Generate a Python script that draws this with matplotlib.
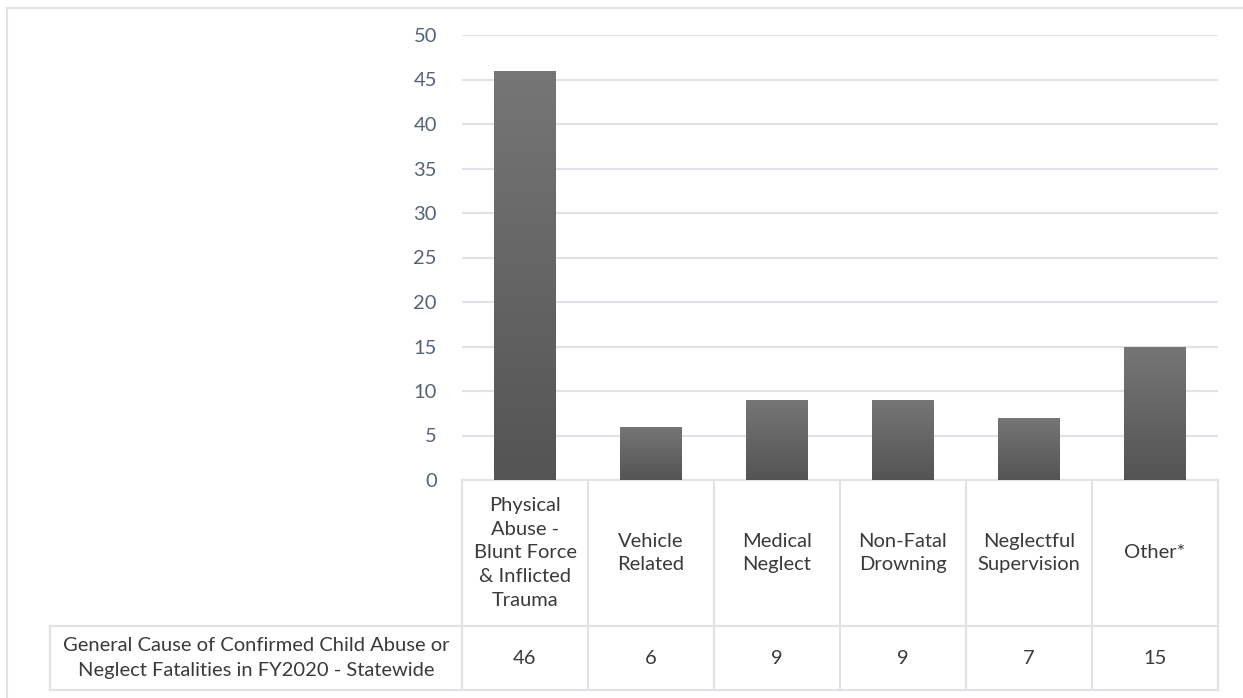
import matplotlib
matplotlib.use("Agg")
import matplotlib.pyplot as plt
import numpy as np
from matplotlib.transforms import blended_transform_factory
from matplotlib.lines import Line2D
from matplotlib.colors import LinearSegmentedColormap

categories = ["Physical\nAbuse -\nBlunt Force\n& Inflicted\nTrauma", "Vehicle\nRelated",
              "Medical\nNeglect", "Non-Fatal\nDrowning", "Neglectful\nSupervision", "Other*"]
values = [46, 6, 9, 9, 7, 15]
series_name = "General Cause of Confirmed Child Abuse or\nNeglect Fatalities in FY2020 - Statewide"
yticks = [0, 5, 10, 15, 20, 25, 30, 35, 40, 45, 50]

plt.rcParams['font.family'] = ['Lato', 'DejaVu Sans']

W, H = 1243, 698
fig = plt.figure(figsize=(W / 100, H / 100), dpi=100)

def fx(px):
    return px / W

def fy(py):
    return 1 - py / H

ax_left, ax_right, ax_top, ax_bottom = 462, 1218, 35, 480
ax = fig.add_axes([fx(ax_left), fy(ax_bottom), fx(ax_right - ax_left), (ax_bottom - ax_top) / H])

grid_c = '#dfe3e8'
text_c = '#3a3a3a'
tick_c = '#56627a'

x = np.arange(len(values))
bars = ax.bar(x, values, width=0.49, color='#616161', zorder=2)
grad = np.linspace(0, 1, 256).reshape(-1, 1)
cmap = LinearSegmentedColormap.from_list('g', ['#545454', '#767676'])
for b in bars:
    x0, y0 = b.get_x(), b.get_y()
    w, h = b.get_width(), b.get_height()
    im = ax.imshow(grad, extent=[x0, x0 + w, y0, y0 + h], origin='lower', cmap=cmap,
                   aspect='auto', zorder=3)
    im.set_clip_path(b)

ax.set_xlim(-0.5, len(values) - 0.5)
ax.set_ylim(0, 50)
ax.set_yticks(yticks)
ax.set_yticklabels([str(t) for t in yticks])
ax.tick_params(axis='y', length=0, pad=18, labelsize=14.5, labelcolor=tick_c)
ax.set_xticks([])
for s in ax.spines.values():
    s.set_visible(False)
ax.grid(axis='y', color=grid_c, linewidth=1.5, zorder=0)
ax.set_axisbelow(True)

# Data table below the axes
trans = blended_transform_factory(ax.transData, ax.transAxes)
axh = ax_bottom - ax_top
hdr_bot = -(626 - ax_bottom) / axh
val_bot = -(690 - ax_bottom) / axh
lw = 1.5
n = len(values)
for yv in [0, hdr_bot, val_bot]:
    ax.add_line(Line2D([-0.5, n - 0.5], [yv, yv], transform=trans, color=grid_c, lw=lw, clip_on=False))
for i in range(n + 1):
    ax.add_line(Line2D([i - 0.5, i - 0.5], [0, val_bot], transform=trans, color=grid_c, lw=lw, clip_on=False))
tA = ax.transAxes
rh_left = (50 - ax_left) / (ax_right - ax_left)
for yv in [hdr_bot, val_bot]:
    ax.add_line(Line2D([rh_left, 0], [yv, yv], transform=tA, color=grid_c, lw=lw, clip_on=False))
ax.add_line(Line2D([rh_left, rh_left], [hdr_bot, val_bot], transform=tA, color=grid_c, lw=lw, clip_on=False))

fs = 14.5
for i, (c, v) in enumerate(zip(categories, values)):
    ax.text(i, hdr_bot / 2, c, transform=trans, ha='center', va='center', fontsize=fs,
            color=text_c, linespacing=1.48)
    ax.text(i, (hdr_bot + val_bot) / 2, str(v), transform=trans, ha='center', va='center',
            fontsize=fs, color=text_c)
ax.text(rh_left / 2, (hdr_bot + val_bot) / 2, series_name, transform=tA, ha='center', va='center',
        fontsize=fs, color=text_c, linespacing=1.55)

# outer chart frame
fig.add_artist(Line2D([fx(7), fx(7)], [fy(8), 0], transform=fig.transFigure, color=grid_c, lw=1.5))
fig.add_artist(Line2D([fx(7), 1], [fy(8), fy(8)], transform=fig.transFigure, color=grid_c, lw=1.5))

fig.savefig('out.png', dpi=100)
